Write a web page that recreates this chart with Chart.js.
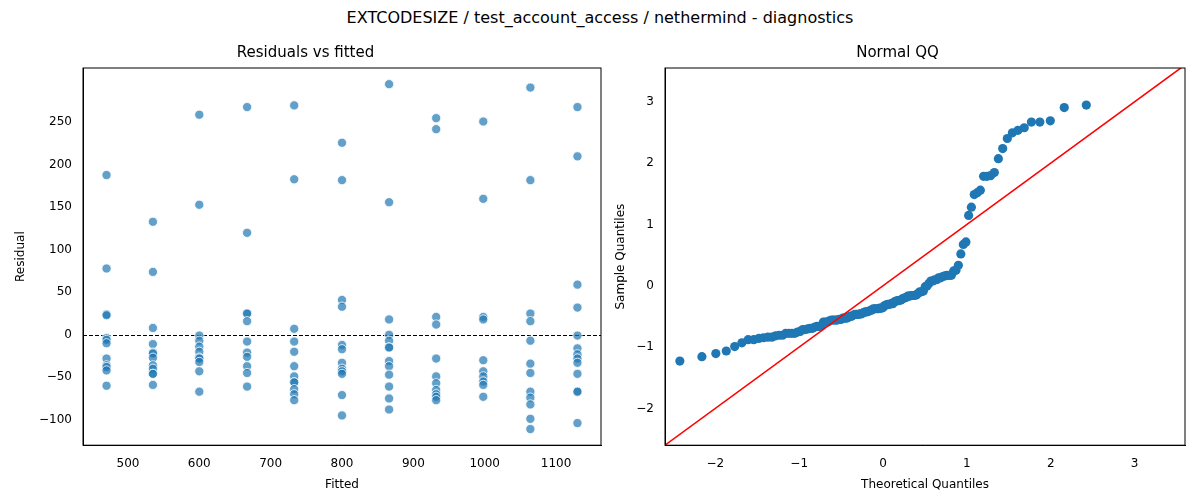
<!DOCTYPE html>
<html>
<head>
<meta charset="utf-8">
<script src="https://cdn.jsdelivr.net/npm/chart.js@4"></script>
<style>
  body { margin: 0; width: 1200px; height: 500px; background: #fff; font-family: "DejaVu Sans", sans-serif; position: relative; }
  #title { position: absolute; top: 8px; left: 0; width: 1200px; text-align: center; font-size: 16px; color: #000; }
  .box { position: absolute; top: 40px; height: 460px; }
</style>
</head>
<body>
<div id="title">EXTCODESIZE / test_account_access / nethermind - diagnostics</div>
<div class="box" style="left:0;width:610px"><canvas id="resid"></canvas></div>
<div class="box" style="left:600px;width:600px"><canvas id="qq"></canvas></div>
<script>
const fittedLevels = [470, 535, 600, 667, 733, 800, 866, 932, 998, 1064, 1130];
// residuals per fitted level
const residuals = {
  470: [188, 78, 24, 23, -4, -6, -10, -28, -36, -38, -42, -60],
  535: [133, 74, 8, -11, -21, -22, -27, -36, -40, -46, -46, -59],
  600: [259, 153, -1, -7, -14, -20, -27, -28, -32, -43, -67],
  667: [268, 120, 25, 25, 16, -8, -21, -26, -37, -45, -61],
  733: [270, 183, 7, -8, -20, -37, -49, -56, -56, -64, -70, -77],
  800: [226, 182, 41, 33, -12, -17, -33, -40, -43, -46, -71, -95],
  866: [295, 156, 18, 0, -7, -15, -15, -31, -37, -47, -61, -75, -88],
  932: [255, 242, 21, 12, -28, -49, -57, -65, -70, -73, -77],
  998: [251, 160, 21, 18, -30, -43, -49, -55, -59, -73],
  1064: [291, 182, 25, 16, -7, -34, -45, -67, -74, -82, -99, -111],
  1130: [268, 210, 59, 32, -1, -16, -23, -28, -33, -46, -67, -67, -104]
};

const blue = '#1f77b4';
const font = {family: '"DejaVu Sans", sans-serif', size: 12};
Chart.defaults.font = font;
Chart.defaults.color = '#000';

// inverse normal cdf (Acklam)
function probit(p){
  const a = [-39.69683028665376, 220.9460984245205, -275.9285104469687, 138.357751867269, -30.66479806614716, 2.506628277459239];
  const b = [-54.47609879822406, 161.5858368580409, -155.6989798598866, 66.80131188771972, -13.28068155211918];
  const c = [-0.007784894002430293, -0.3223964580411365, -2.400758277161838, -2.549732539343734, 4.374664141464968, 2.938163982698783];
  const d = [0.007784695709041462, 0.3224671290700398, 2.445134137142996, 3.754408661907416];
  const pl = 0.02425;
  let q, r;
  if (p < pl){
    q = Math.sqrt(-2 * Math.log(p));
    return (((((c[0]*q+c[1])*q+c[2])*q+c[3])*q+c[4])*q+c[5]) / ((((d[0]*q+d[1])*q+d[2])*q+d[3])*q+1);
  } else if (p <= 1 - pl){
    q = p - 0.5; r = q*q;
    return (((((a[0]*r+a[1])*r+a[2])*r+a[3])*r+a[4])*r+a[5])*q / (((((b[0]*r+b[1])*r+b[2])*r+b[3])*r+b[4])*r+1);
  }
  q = Math.sqrt(-2 * Math.log(1 - p));
  return -(((((c[0]*q+c[1])*q+c[2])*q+c[3])*q+c[4])*q+c[5]) / ((((d[0]*q+d[1])*q+d[2])*q+d[3])*q+1);
}

const scatterPts = [];
fittedLevels.forEach(f => {
  residuals[f].forEach(r => scatterPts.push({x: f, y: r}));
});

const all = scatterPts.map(p => p.y);
const n = all.length;
const mean = all.reduce((s, v) => s + v, 0) / n;
const sd = Math.sqrt(all.reduce((s, v) => s + (v - mean) ** 2, 0) / (n - 1));
const sorted = all.map(v => (v - mean) / sd).sort((a, b) => a - b);
const qqPts = sorted.map((v, i) => ({x: probit((i + 1) / (n + 1)), y: v}));

function axis(min, max, step, title, yWidth){
  return {
    type: 'linear', min: min, max: max,
    grid: {display: false, drawTicks: true},
    border: {color: '#000'},
    afterBuildTicks: s => { s.ticks = s.ticks.filter(t => Math.abs(t.value / step - Math.round(t.value / step)) < 1e-6); },
    afterFit: s => { if (yWidth) s.width = yWidth; },
    ticks: {stepSize: step, color: '#000', font: font,
      callback: v => (v < 0 ? '\u2212' + Math.abs(v) : v)},
    title: {display: true, text: title, color: '#000', font: font}
  };
}
function frame(){
  return {
    id: 'frame',
    afterDraw(chart){
      const a = chart.chartArea, ctx = chart.ctx;
      ctx.save(); ctx.strokeStyle = '#000'; ctx.lineWidth = 1;
      ctx.strokeRect(a.left, a.top, a.right - a.left, a.bottom - a.top);
      ctx.restore();
    }
  };
}

const zeroLine = {
  id: 'zeroLine',
  beforeDatasetsDraw(chart){
    const a = chart.chartArea, ctx = chart.ctx;
    const y = Math.round(chart.scales.y.getPixelForValue(0)) + 0.5;
    ctx.save(); ctx.strokeStyle = '#000'; ctx.lineWidth = 1.2; ctx.setLineDash([4, 2]);
    ctx.beginPath(); ctx.moveTo(a.left, y); ctx.lineTo(a.right, y); ctx.stroke();
    ctx.restore();
  }
};

const subTitle = t => ({display: true, text: t, color: '#000', font: {family: font.family, size: 15, weight: 'normal'}, padding: {top: 4, bottom: 6}});

new Chart(document.getElementById('resid'), {
  type: 'scatter',
  data: {datasets: [{data: scatterPts, backgroundColor: 'rgba(31,119,180,0.7)', borderColor: '#fff', borderWidth: 0.8, pointRadius: 4.6}]},
  options: {
    responsive: true, maintainAspectRatio: false, animation: false,
    layout: {padding: {left: 10, right: 9, top: 0, bottom: 4}},
    plugins: {legend: {display: false}, tooltip: {enabled: false}, title: subTitle('Residuals vs fitted')},
    scales: {x: axis(437, 1163, 100, 'Fitted'), y: axis(-130, 314, 50, 'Residual', 73)}
  },
  plugins: [zeroLine, frame()]
});

new Chart(document.getElementById('qq'), {
  type: 'scatter',
  data: {datasets: [
    {data: qqPts, backgroundColor: blue, borderWidth: 0, pointRadius: 4.6, order: 1},
    {type: 'line', data: [{x: -2.6, y: -2.6}, {x: 3.6, y: 3.6}], borderColor: 'red', borderWidth: 1.6, pointRadius: 0, order: 0}
  ]},
  options: {
    responsive: true, maintainAspectRatio: false, animation: false,
    layout: {padding: {left: 10, right: 15, top: 0, bottom: 4}},
    plugins: {legend: {display: false}, tooltip: {enabled: false}, title: subTitle('Normal QQ')},
    scales: {x: axis(-2.6, 3.6, 1, 'Theoretical Quantiles'), y: axis(-2.6, 3.55, 1, 'Sample Quantiles', 55)}
  },
  plugins: [frame()]
});
</script>
</body>
</html>
